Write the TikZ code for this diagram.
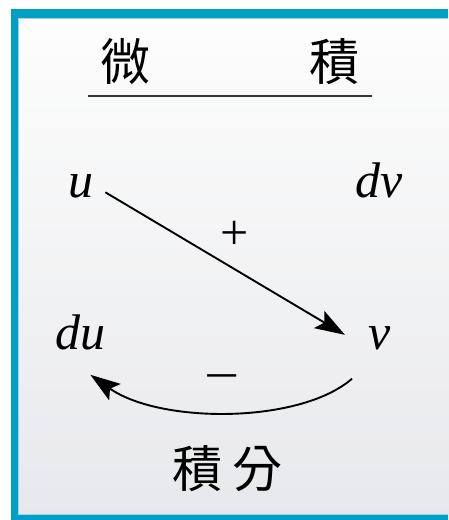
\documentclass[tikz,border=0pt]{standalone}
\usepackage{fontspec}
\setmainfont{Liberation Serif}
\newfontfamily\cjk{Noto Sans CJK TC}
\usetikzlibrary{arrows.meta}
\definecolor{frameteal}{RGB}{0,160,196}
\definecolor{frameedge}{RGB}{150,215,232}
\definecolor{paneltop}{RGB}{253,253,253}
\definecolor{panelgray}{RGB}{231,232,235}
\tikzset{
  var/.style={font=\fontsize{50}{50}\selectfont\itshape,inner sep=0pt,anchor=base west},
  han/.style={font=\cjk\fontsize{50}{50}\selectfont,inner sep=0pt},
  sign/.style={font=\fontsize{50}{50}\selectfont,inner sep=0pt},
  arr/.style={line width=1.9pt,-{Stealth[length=30pt,width=20pt,inset=6pt]}}
}
\begin{document}
\begin{tikzpicture}[x=1pt,y=-1pt]
\useasboundingbox (0,0) rectangle (448,520);
\fill[white] (0,0) rectangle (448,520);
% panel, light at the top, grey at the bottom
\foreach \i in {0,...,49}{
  \pgfmathsetmacro{\p}{2*\i}
  \fill[panelgray!\p!paneltop] (18,{18+10*\i}) rectangle (470,{28.5+10*\i});
}
% frame
\fill[frameteal] (11,9) rectangle (448,18);
\fill[frameteal] (11,9) rectangle (18,520);
\fill[frameteal] (11,515) rectangle (448,520);
\draw[frameedge,line width=1pt] (18.5,515) -- (18.5,18.5) -- (448,18.5);
\draw[frameedge,line width=1pt] (18.5,514.5) -- (448,514.5);
% header
\node[han] (wei) at (125,62) {微};
\node[han] (ji) at (334,62) {積};
\coordinate (ruleL) at (88,96);
\coordinate (ruleR) at (372,96);
\draw[line width=1.4pt,black!80] (ruleL) -- (ruleR);
% the four terms
\node[var] (u) at (68,197) {u};
\node[var] (dv) at (355,197) {dv};
\node[var] (du) at (55,349) {du};
\node[var] (v) at (368,349) {v};
% arrows
\draw[arr] ([shift={(12,6.5)}]u.east) -- ([shift={(-23,9)}]v.north west);
\node[sign] (plus) at (235,235) {+};
\draw[arr] ([shift={(-16,29)}]v.south west) .. controls (300,424) and (160,424) .. ([shift={(-15,25)}]du.south east);
\node[sign,xscale=1.25] (minus) at (222,384) {−};
\node[han] (jifen) at (227,469) {積\hspace{10pt}分};
\end{tikzpicture}
\end{document}
